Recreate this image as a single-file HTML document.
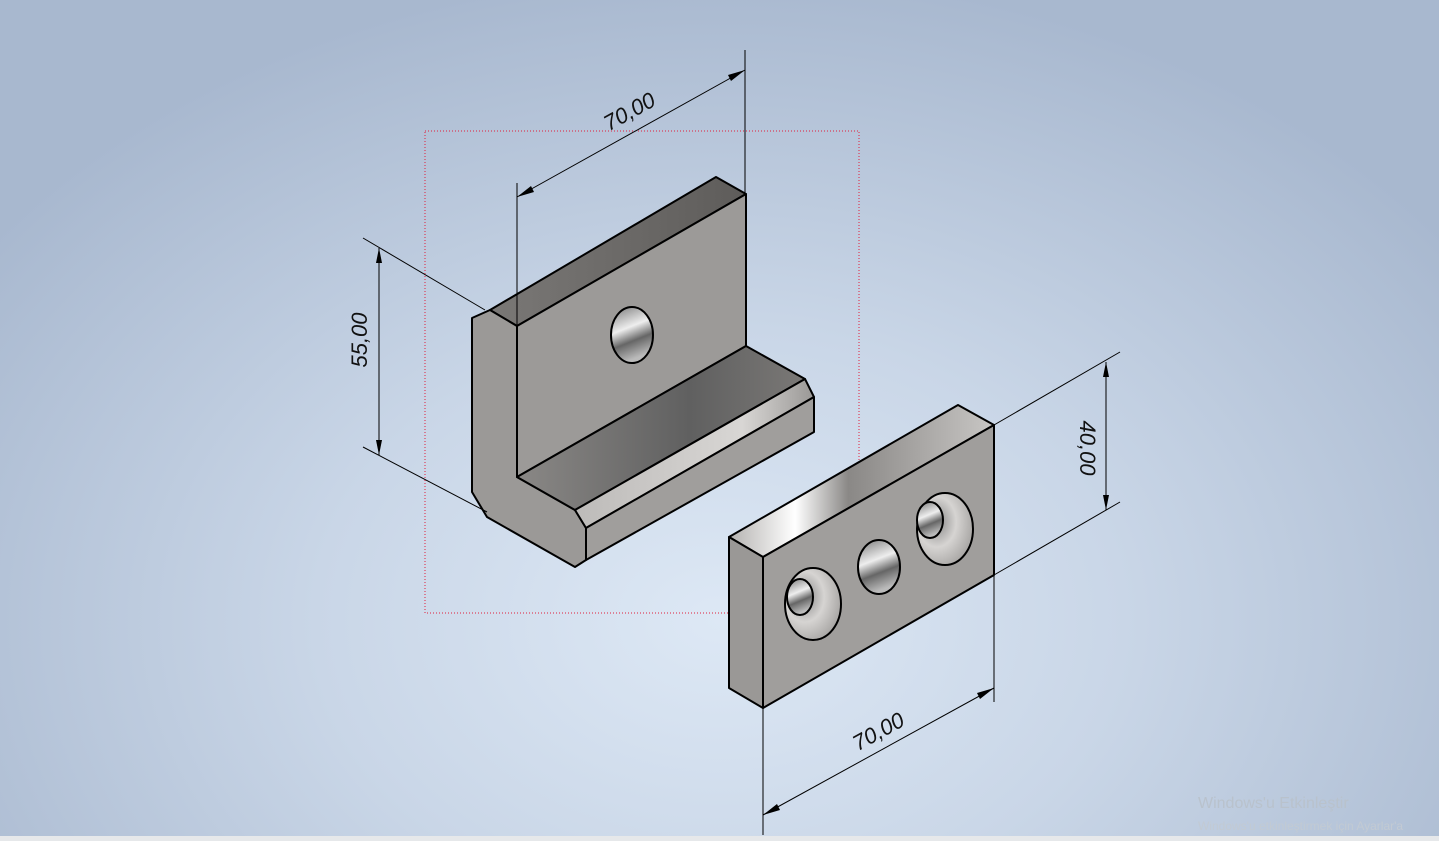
<!DOCTYPE html>
<html><head><style>
html,body{margin:0;padding:0;width:1439px;height:841px;overflow:hidden}
body{background:radial-gradient(ellipse 900px 650px at 720px 620px,#dde8f5 0%,#c9d6e7 45%,#a8b8cf 100%);font-family:"Liberation Sans",sans-serif}
svg{position:absolute;left:0;top:0}
</style></head><body>
<svg width="1439" height="841" viewBox="0 0 1439 841">
<defs>
<linearGradient id="top1" x1="0" y1="0" x2="1" y2="0"><stop offset="0" stop-color="#7a7876"/><stop offset="1" stop-color="#5e5c5a"/></linearGradient>
<linearGradient id="foot" x1="0" y1="0" x2="1" y2="0"><stop offset="0" stop-color="#8a8886"/><stop offset="0.6" stop-color="#606060"/><stop offset="1" stop-color="#7a7876"/></linearGradient>
<linearGradient id="ptop" x1="0" y1="0" x2="1" y2="0"><stop offset="0" stop-color="#b4b2b0"/><stop offset="0.25" stop-color="#ffffff"/><stop offset="0.45" stop-color="#8a8886"/><stop offset="1" stop-color="#c8c6c4"/></linearGradient>
<linearGradient id="hole" x1="0" y1="0" x2="0.3" y2="1"><stop offset="0" stop-color="#777"/><stop offset="0.45" stop-color="#eee"/><stop offset="0.7" stop-color="#666"/><stop offset="1" stop-color="#bbb"/></linearGradient>
<radialGradient id="csk" cx="0.35" cy="0.4" r="0.7"><stop offset="0" stop-color="#888"/><stop offset="0.5" stop-color="#d6d4d2"/><stop offset="1" stop-color="#a4a2a0"/></radialGradient>
<linearGradient id="cham" x1="0" y1="0" x2="1" y2="0"><stop offset="0" stop-color="#bdbbb9"/><stop offset="0.7" stop-color="#d8d6d4"/><stop offset="1" stop-color="#9a9896"/></linearGradient>
</defs>
<rect x="425" y="131" width="434" height="482" fill="none" stroke="#e0203c" stroke-width="1" stroke-dasharray="1,2" shape-rendering="crispEdges"/>
<g stroke="#000" stroke-width="2" stroke-linejoin="round">
<polygon points="490,310 716,177 746,194 517,326" fill="url(#top1)"/>
<polygon points="472,318 490,310 517,326 517,477 575,510 586,528 586,560 575,567 487,517 472,492" fill="#9b9997"/>
<polygon points="517,326 746,194 746,346 517,477" fill="#9c9a98"/>
<polygon points="517,477 746,346 805,379 575,510" fill="url(#foot)"/>
<polygon points="575,510 805,379 814,397 586,528" fill="url(#cham)"/>
<polygon points="586,528 814,397 814,432 586,560" fill="#a09e9c"/>
<ellipse cx="632" cy="335" rx="21" ry="28" fill="url(#hole)"/>
<polygon points="729,537 958,405 994,425 763,557" fill="url(#ptop)"/>
<polygon points="763,557 994,425 994,575 763,708" fill="#a09e9c"/>
<polygon points="729,537 763,557 763,708 729,688" fill="#9a9896"/>
<ellipse cx="813" cy="604" rx="28" ry="36" fill="url(#csk)"/>
<ellipse cx="800" cy="597" rx="13" ry="18" fill="url(#hole)"/>
<ellipse cx="879" cy="567" rx="21" ry="27" fill="url(#hole)"/>
<ellipse cx="945" cy="529" rx="28" ry="36" fill="url(#csk)"/>
<ellipse cx="930" cy="520" rx="13" ry="18" fill="url(#hole)"/>
</g>
<g stroke="#000" stroke-width="1" fill="none">
<line x1="517" y1="183" x2="517" y2="326"/>
<line x1="745" y1="50" x2="745" y2="194"/>
<line x1="517" y1="197" x2="745" y2="70"/>
<line x1="485" y1="310" x2="363" y2="238"/>
<line x1="487" y1="512" x2="363" y2="447"/>
<line x1="379" y1="248" x2="379" y2="455"/>
<line x1="994" y1="425" x2="1120" y2="352"/>
<line x1="994" y1="575" x2="1120" y2="502"/>
<line x1="1106" y1="362" x2="1106" y2="510"/>
<line x1="763" y1="708" x2="763" y2="835"/>
<line x1="994" y1="575" x2="994" y2="702"/>
<line x1="763" y1="815" x2="994" y2="688"/>
</g>
<g fill="#000">
<polygon points="517,197 531,186 534,192"/>
<polygon points="745,70 731,81 728,75"/>
<polygon points="379,248 376,263 382,263"/>
<polygon points="379,455 376,440 382,440"/>
<polygon points="1106,362 1103,377 1109,377"/>
<polygon points="1106,510 1103,495 1109,495"/>
<polygon points="763,815 777,804 780,810"/>
<polygon points="994,688 980,699 977,693"/>
</g>
<g font-size="22" font-style="italic" fill="#111" text-anchor="middle">
<text transform="translate(633,118) rotate(-29)">70,00</text>
<text transform="translate(367,340) rotate(-90)">55,00</text>
<text transform="translate(1080,448) rotate(90)">40,00</text>
<text transform="translate(882,738) rotate(-29)">70,00</text>
</g>
<text x="1198" y="808" font-size="16" fill="#b9c2cc">Windows'u Etkinleştir</text>
<text x="1198" y="830" font-size="12" fill="#c2cad3">Windows'u etkinleştirmek için Ayarlar'a</text>
<rect x="0" y="836" width="1439" height="5" fill="#e6e8ea"/>
</svg>
</body></html>
